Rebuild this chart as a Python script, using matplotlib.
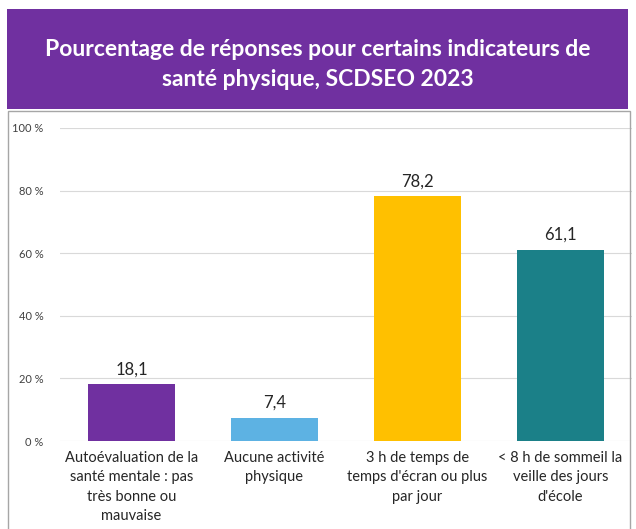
import matplotlib
matplotlib.use("Agg")
import matplotlib.pyplot as plt
from matplotlib.patches import Rectangle

categories = [
    "Autoévaluation de la\nsanté mentale : pas\ntrès bonne ou\nmauvaise",
    "Aucune activité\nphysique",
    "3 h de temps de\ntemps d'écran ou plus\npar jour",
    "< 8 h de sommeil la\nveille des jours\nd'école",
]
values = [18.1, 7.4, 78.2, 61.1]
colors = ["#7030A0", "#5DB2E3", "#FFC000", "#1B8088"]
yticks = [0, 20, 40, 60, 80, 100]

W, H = 636, 529
plt.rcParams["font.family"] = ["Lato", "DejaVu Sans"]
fig = plt.figure(figsize=(W / 100, H / 100), dpi=100)

# purple title band
fig.patches.append(Rectangle((7 / W, 1 - 109 / H), 621 / W, 100 / H,
                             transform=fig.transFigure, facecolor="#7030A0",
                             edgecolor="none", zorder=0))
fig.text(0.5, 1 - 49 / H, "Pourcentage de réponses pour certains indicateurs de",
         ha="center", va="center", color="white", fontsize=16.5, weight="bold")
fig.text(0.5, 1 - 80 / H, "santé physique, SCDSEO 2023",
         ha="center", va="center", color="white", fontsize=16.5, weight="bold")

# thin border round the chart area
fig.patches.append(Rectangle((8 / W, -0.01), 622 / W, 1 - 111 / H + 0.01,
                             transform=fig.transFigure, facecolor="none",
                             edgecolor="#A6A6A6", linewidth=1.0, zorder=0))

ax = fig.add_axes([60 / W, 1 - 441 / H, 572 / W, 313 / H])
x = range(len(values))
ax.bar(x, values, width=0.61, color=colors, zorder=3)
for i, v in enumerate(values):
    ax.text(i, v + 2.2, f"{v:.1f}".replace(".", ","), ha="center", va="bottom",
            fontsize=12, color="#262626")

ax.set_ylim(0, 100)
ax.set_xlim(-0.5, 3.5)
ax.set_yticks(yticks)
ax.set_yticklabels([f"{t} %" for t in yticks], fontsize=8, color="#404040")
ax.set_xticks(list(x))
ax.set_xticklabels(categories, fontsize=10.5, color="#262626", linespacing=1.5, va="top")
ax.tick_params(axis="both", length=0)
ax.tick_params(axis="y", pad=12)
ax.tick_params(axis="x", pad=7)
ax.grid(axis="y", color="#D9D9D9", linewidth=0.8, zorder=0)
for s in ax.spines.values():
    s.set_visible(False)

fig.savefig("out.png", dpi=100, facecolor="white")
